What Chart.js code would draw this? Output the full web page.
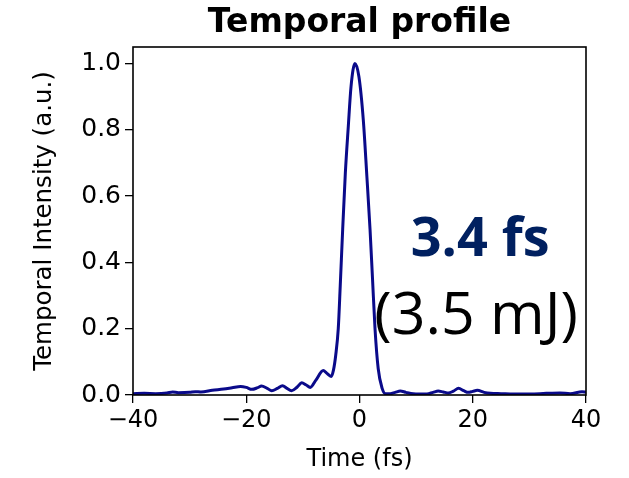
<!DOCTYPE html>
<html>
<head>
<meta charset="utf-8">
<script src="https://cdn.jsdelivr.net/npm/chart.js@4/dist/chart.umd.min.js"></script>
<style>
  html, body { margin: 0; padding: 0; background: #fff; }
  #wrap { width: 629px; height: 478px; }
</style>
</head>
<body>
<div id="wrap"><canvas id="perfil" width="629" height="478"></canvas></div>
<script>
// datos
const tiempo = [-40, -38, -36, -34, -33, -32, -30, -29, -28, -26, -24, -22.5, -21, -20, -19, -18, -17.3, -16.3,
  -15.5, -14.5, -13.6, -12.8, -12, -11, -10.2, -9.4, -8.7, -7.7, -6.4, -5.8, -5.0, -4.6, -4.2, -3.75, -3.4,
  -2.97, -2.5, -1.98, -1.5, -0.8, -0.1, 0.67, 1.3, 1.86, 2.3, 2.74, 3.3, 4.0, 4.6, 5.4, 6.3, 7.2, 8.2, 9.5,
  11.9, 13, 13.9, 14.8, 15.7, 16.6, 17.5, 18.4, 19.2, 20, 20.8, 22, 23.1, 25, 27.2, 30.1, 33, 35.4, 37.2, 39.3, 40];
const intensidad = [0.004, 0.005, 0.004, 0.006, 0.009, 0.007, 0.008, 0.010, 0.009, 0.014, 0.018, 0.022, 0.026,
  0.023, 0.017, 0.022, 0.027, 0.020, 0.013, 0.020, 0.028, 0.020, 0.013, 0.024, 0.037, 0.030, 0.023, 0.045,
  0.074, 0.066, 0.056, 0.075, 0.12, 0.20, 0.33, 0.50, 0.67, 0.81, 0.93, 1.0, 0.96, 0.83, 0.66, 0.50, 0.35,
  0.20, 0.08, 0.02, 0.004, 0.004, 0.008, 0.012, 0.008, 0.004, 0.003, 0.008, 0.012, 0.009, 0.006, 0.012,
  0.020, 0.013, 0.008, 0.011, 0.014, 0.008, 0.005, 0.004, 0.003, 0.003, 0.005, 0.006, 0.004, 0.010, 0.008];
const ticksX = [-40, -20, 0, 20, 40];
const ticksY = [0, 0.2, 0.4, 0.6, 0.8, 1.0];

const fuente = "'DejaVu Sans', sans-serif";

// marco completo, titulo centrado sobre el area y textos anotados
const marco = {
  id: 'marco',
  afterDatasetsDraw(chart) {
    const a = chart.chartArea;
    const c = chart.ctx;
    c.save();
    c.strokeStyle = '#000';
    c.lineWidth = 1.6;
    c.strokeRect(a.left, a.top, a.right - a.left, a.bottom - a.top);
    c.textAlign = 'center';
    c.textBaseline = 'middle';
    c.fillStyle = '#000';
    c.font = "bold 33px " + fuente;
    c.fillText('Temporal profile', (a.left + a.right) / 2, 23);
    const sx = chart.scales.x, sy = chart.scales.y;
    c.fillStyle = '#002060';
    c.font = "bold 54px 'Open Sans', sans-serif";
    c.fillText('3.4 fs', sx.getPixelForValue(21.3), sy.getPixelForValue(0.465));
    c.fillStyle = '#000';
    c.font = "59px 'Open Sans', sans-serif";
    c.fillText('(3.5 mJ)', sx.getPixelForValue(20.6), sy.getPixelForValue(0.235));
    c.restore();
  }
};

new Chart(document.getElementById('perfil'), {
  type: 'line',
  data: {
    datasets: [{
      data: tiempo.map((t, i) => ({ x: t, y: intensidad[i] })),
      borderColor: '#0a0a8a',
      borderWidth: 3,
      pointRadius: 0,
      cubicInterpolationMode: 'monotone',
      fill: false
    }]
  },
  options: {
    responsive: false,
    animation: false,
    layout: { padding: { left: 0, right: 43, top: 47, bottom: 0 } },
    plugins: {
      legend: { display: false },
      tooltip: { enabled: false },
      title: { display: false }
    },
    scales: {
      x: {
        type: 'linear',
        min: -40, max: 40,
        afterBuildTicks: s => { s.ticks = ticksX.map(v => ({ value: v })); },
        afterFit: s => { s.height = 83; },
        grid: { drawOnChartArea: false, drawTicks: true, tickLength: 8, color: '#000', lineWidth: 1.3 },
        border: { display: false },
        ticks: {
          color: '#000', padding: 3,
          font: { family: fuente, size: 24 },
          callback: v => String(v).replace('-', '\u2212')
        },
        title: { display: true, text: 'Time (fs)', color: '#000', font: { family: fuente, size: 24 }, padding: { top: 4 } }
      },
      y: {
        min: 0, max: 1.05,
        afterBuildTicks: s => { s.ticks = ticksY.map(v => ({ value: v })); },
        afterFit: s => { s.width = 133; },
        grid: { drawOnChartArea: false, drawTicks: true, tickLength: 8, color: '#000', lineWidth: 1.3 },
        border: { display: false },
        ticks: {
          color: '#000', padding: 4,
          font: { family: fuente, size: 25 },
          callback: v => v.toFixed(1)
        },
        title: { display: true, text: 'Temporal Intensity (a.u.)', color: '#000', font: { family: fuente, size: 24.5 }, padding: { top: 30, bottom: 0 } }
      }
    }
  },
  plugins: [marco]
});
</script>
</body>
</html>
